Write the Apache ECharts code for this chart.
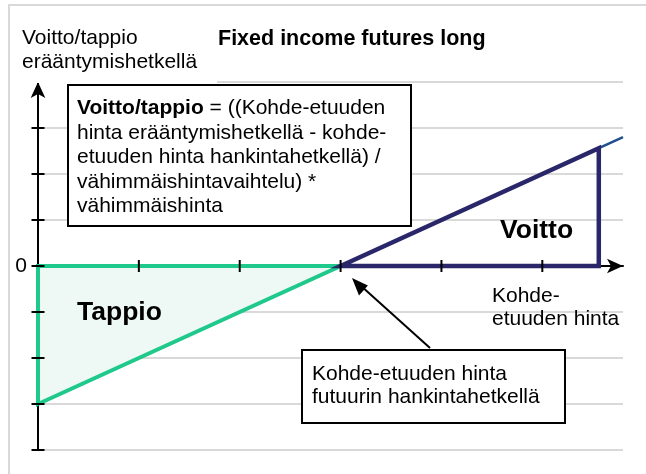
<!DOCTYPE html>
<html><head><meta charset="utf-8">
<script src="https://cdn.jsdelivr.net/npm/echarts@6/dist/echarts.min.js"></script>
<style>html,body{margin:0;padding:0;background:#fff}#c{width:646px;height:474px}</style>
</head><body><div id="c"></div>
<script>
// data (units of the chart's value axes)
const lossX = [0, 3, 0];
const lossY = [0, 0, -3];
const profitX = [3, 5.56, 5.56];
const profitY = [0, 2.56, 0];
const payoffX = [0, 5.8];
const payoffY = [-3, 2.8];
const xTicks = [1, 2, 3, 4, 5];
const yTicks = [-4, -3, -2, -1, 0, 1, 2, 3];

const FONT = '"Liberation Sans", Arial, sans-serif';
const lossPts = lossX.map((x, i) => [x, lossY[i]]);
const profitPts = profitX.map((x, i) => [x, profitY[i]]);
const payoffPts = payoffX.map((x, i) => [x, payoffY[i]]);

function polySeries(pts, fill, stroke, lw, z) {
  return {
    type: 'custom', data: pts, z: z, silent: true,
    renderItem: function (params, api) {
      if (params.dataIndex !== 0) return;
      const p = pts.map(d => api.coord(d));
      return { type: 'polygon', shape: { points: p },
        style: { fill: fill, stroke: stroke, lineWidth: lw, lineJoin: 'miter' } };
    }
  };
}

const chart = echarts.init(document.getElementById('c'), null, { renderer: 'canvas' });
chart.setOption({
  animation: false,
  backgroundColor: '#fff',
  grid: { left: 38, right: 23, top: 82, bottom: 24, containLabel: false },
  xAxis: {
    type: 'value', min: 0, max: 5.8, interval: 1,
    axisLine: { show: true, onZero: true, symbol: ['none', 'arrow'], symbolSize: [11, 16],
      lineStyle: { color: '#000', width: 2 } },
    axisTick: { show: false }, axisLabel: { show: false }, splitLine: { show: false }
  },
  yAxis: {
    type: 'value', min: -4, max: 4, interval: 1,
    axisLine: { show: true, onZero: false, symbol: ['none', 'arrow'], symbolSize: [11, 16],
      lineStyle: { color: '#000', width: 2 } },
    axisTick: { show: false },
    axisLabel: { show: true, margin: 11, color: '#000', fontSize: 21, fontFamily: FONT,
      formatter: v => (v === 0 ? '0' : '') },
    splitLine: { show: true, lineStyle: { color: '#d9d9d9', width: 2 } }
  },
  series: [
    { type: 'line', data: payoffPts, symbol: 'none', z: 2,
      lineStyle: { color: '#1f4e8e', width: 2.5 } },
    polySeries(lossPts, '#eef8f5', '#1ec98b', 4, 3),
    polySeries(profitPts, 'rgba(0,0,0,0)', '#29266a', 4.5, 4),
    { type: 'custom', data: xTicks.map(v => [v, 0]), z: 5, silent: true,
      renderItem: (params, api) => {
        const p = api.coord([api.value(0), api.value(1)]);
        return { type: 'line', shape: { x1: p[0], y1: p[1] - 6, x2: p[0], y2: p[1] + 6 },
          style: { stroke: '#000', lineWidth: 2 } };
      } },
    { type: 'custom', data: yTicks.map(v => [0, v]), z: 5, silent: true,
      renderItem: (params, api) => {
        const p = api.coord([api.value(0), api.value(1)]);
        return { type: 'line', shape: { x1: p[0] - 6.5, y1: p[1], x2: p[0] + 6.5, y2: p[1] },
          style: { stroke: '#000', lineWidth: 2 } };
      } }
  ],
  graphic: [
    { type: 'rect', z: 50, shape: { x: 10, y: 6, width: 207, height: 77 }, style: { fill: '#fff' } },
    { type: 'line', z: 60, shape: { x1: 9, y1: 5, x2: 9, y2: 474 }, style: { stroke: '#d9d9d9', lineWidth: 2 } },
    { type: 'line', z: 60, shape: { x1: 8, y1: 5, x2: 646, y2: 5 }, style: { stroke: '#d9d9d9', lineWidth: 2 } },
    { type: 'text', z: 60, left: 22, top: 26, style: { text: 'Voitto/tappio\nerääntymishetkellä',
      font: '21px ' + FONT, fill: '#000', lineHeight: 24 } },
    { type: 'text', z: 60, left: 218, top: 28, style: { text: 'Fixed income futures long',
      font: 'bold 21.5px ' + FONT, fill: '#000' } },
    { type: 'rect', z: 60, shape: { x: 68, y: 85, width: 343, height: 141 },
      style: { fill: '#fff', stroke: '#000', lineWidth: 2 } },
    { type: 'text', z: 61, left: 77, top: 96, style: {
      text: '{b|Voitto/tappio} = ((Kohde-etuuden\nhinta erääntymishetkellä - kohde-\netuuden hinta hankintahetkellä) /\nvähimmäishintavaihtelu) *\nvähimmäishinta',
      font: '21px ' + FONT, fill: '#000', lineHeight: 24.5,
      rich: { b: { font: 'bold 21px ' + FONT, fill: '#000', lineHeight: 24.5 } } } },
    { type: 'rect', z: 60, shape: { x: 302, y: 350, width: 263, height: 73 },
      style: { fill: '#fff', stroke: '#000', lineWidth: 2 } },
    { type: 'text', z: 61, left: 312, top: 362, style: {
      text: 'Kohde-etuuden hinta\nfutuurin hankintahetkellä', font: '21px ' + FONT, fill: '#000', lineHeight: 23.5 } },
    { type: 'text', z: 61, left: 492, top: 285, style: {
      text: 'Kohde-\netuuden hinta', font: '21px ' + FONT, fill: '#000', lineHeight: 23 } },
    { type: 'text', z: 61, left: 77, top: 299, style: { text: 'Tappio', font: 'bold 26.5px ' + FONT, fill: '#000' } },
    { type: 'text', z: 61, left: 500, top: 217, style: { text: 'Voitto', font: 'bold 26.5px ' + FONT, fill: '#000' } },
    { type: 'line', z: 61, shape: { x1: 430, y1: 348, x2: 360, y2: 285 }, style: { stroke: '#000', lineWidth: 2 } },
    { type: 'polygon', z: 61, shape: { points: [[352, 278], [367.9, 285.5], [359.0, 295.4]] }, style: { fill: '#000' } }
  ]
});
</script></body></html>
